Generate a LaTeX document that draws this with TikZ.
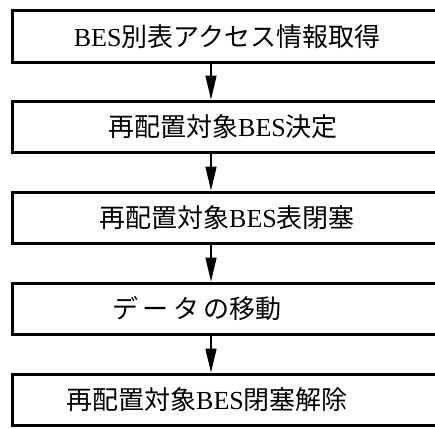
\documentclass[tikz,border=0pt]{standalone}
\usepackage{fontspec}
\setmainfont{Liberation Serif}
\newfontfamily\cjk{Noto Sans CJK JP}
\usetikzlibrary{arrows.meta}
\begin{document}
\begin{tikzpicture}[x=1pt,y=-1pt,
  box/.style={draw, line width=3pt, minimum width=480pt, minimum height=51pt, anchor=west, inner sep=0pt},
  lbl/.style={font=\fontsize{26}{26}\selectfont, inner sep=0pt},
  arr/.style={line width=1.5pt, -{Triangle[length=24pt,width=11pt]}}]
\useasboundingbox (0,0) rectangle (435,428);
\fill[white] (0,0) rectangle (435,428);
\clip (0,0) rectangle (435,428);
\coordinate (ax) at (211,0);
\node[box] (b1) at (10.5,36.5) {};
\node[box] (b2) at (10.5,126.5) {};
\node[box] (b3) at (10.5,217.5) {};
\node[box] (b4) at (10.5,308.5) {};
\node[box] (b5) at (10.5,399.5) {};
\node[lbl] (t1) at (227,36.5) {BES{\cjk 別表アクセス情報取得}};
\node[lbl] (t2) at (223,126.5) {{\cjk 再配置対象}BES{\cjk 決定}};
\node[lbl] (t3) at (227,217.5) {{\cjk 再配置対象}BES{\cjk 表閉塞}};
\node[lbl] (t4) at (197,308.5) {{\cjk デ\,ー\,タ\,の移動}};
\node[lbl] (t5) at (207,399.5) {{\cjk 再配置対象}BES{\cjk 閉塞解除}};
\draw[arr] (b1.south -| ax) -- (b2.north -| ax);
\draw[arr] (b2.south -| ax) -- (b3.north -| ax);
\draw[arr] (b3.south -| ax) -- (b4.north -| ax);
\draw[arr] (b4.south -| ax) -- (b5.north -| ax);
\end{tikzpicture}
\end{document}
